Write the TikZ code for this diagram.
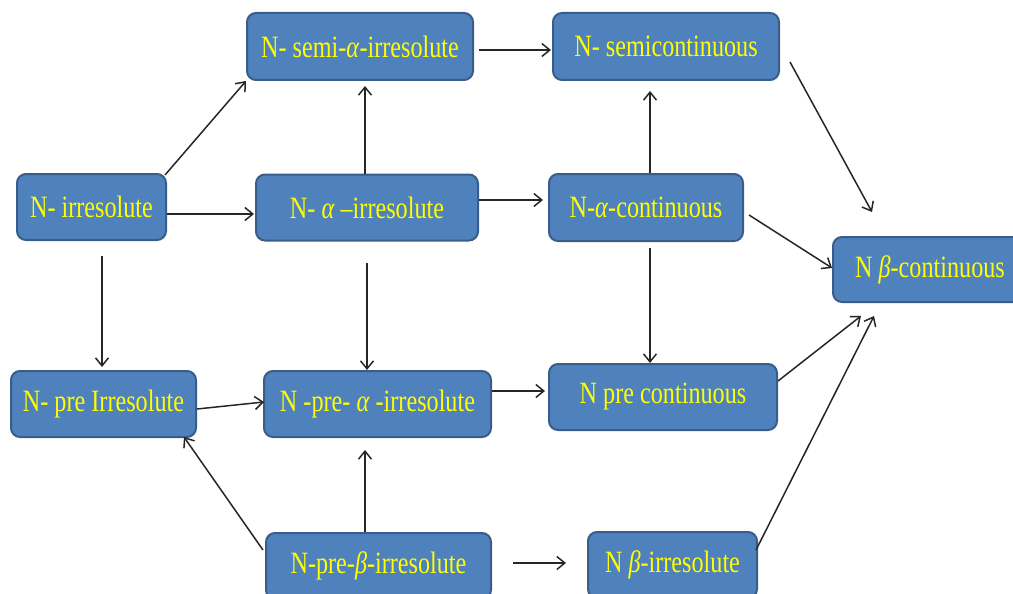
\documentclass[tikz,border=0pt]{standalone}
\usepackage{fontspec}
\setmainfont{Liberation Serif}
\usetikzlibrary{arrows.meta}
\definecolor{boxfill}{RGB}{79,129,189}
\definecolor{boxline}{RGB}{56,93,138}
\definecolor{txtyellow}{RGB}{255,255,0}
\newcommand{\boxtext}[1]{\scalebox{0.78}[1]{\fontsize{31}{33}\selectfont #1}}
\begin{document}
\begin{tikzpicture}[x=1pt,y=-1pt,
  box/.style={draw=boxline, line width=2pt, fill=boxfill, rounded corners=9pt,
    text=txtyellow, inner sep=0pt, minimum height=66pt},
  arr/.style={-{Straight Barb[length=8pt,width=13pt]}, line width=1.5pt, draw=black!85}]
\useasboundingbox (0,0) rectangle (1013,594);

\node[box, minimum width=149pt] (irr) at (91.5,207) {\boxtext{N- irresolute}};
\node[box, minimum width=226pt, minimum height=67pt] (semi) at (360,46.5) {\boxtext{N- semi-\textit{α}-irresolute}};
\node[box, minimum width=226pt, minimum height=67pt] (semicont) at (666,46.5) {\boxtext{N- semicontinuous}};
\node[box, minimum width=222pt] (airr) at (367,207.5) {\boxtext{N- \textit{α} –irresolute}};
\node[box, minimum width=194pt, minimum height=67pt] (acont) at (646,207.5) {\boxtext{N-\textit{α}-continuous}};
\node[box, minimum width=194pt, minimum height=65pt] (bcont) at (930,269.5) {\boxtext{N \textit{β}-continuous}};
\node[box, minimum width=185pt] (preirr) at (103.5,404) {\boxtext{N- pre Irresolute}};
\node[box, minimum width=227pt] (pairr) at (377.5,404) {\boxtext{N -pre- \textit{α} -irresolute}};
\node[box, minimum width=228pt] (precont) at (663,397) {\boxtext{N pre continuous}};
\node[box, minimum width=225pt] (pbirr) at (378.5,566) {\boxtext{N-pre-\textit{β}-irresolute}};
\node[box, minimum width=169pt] (birr) at (672.5,565) {\boxtext{N \textit{β}-irresolute}};

\draw[arr] ([shift={(-2,2)}]irr.north east) -- (semi.south west);
\draw[arr] ([shift={(0,7)}]irr.east) -- ([shift={(-1,6.5)}]airr.west);
\draw[arr] ([shift={(10.5,15)}]irr.south) -- ([shift={(-1.5,-3)}]preirr.north);
\draw[arr] ([shift={(-2,0)}]airr.north) -- ([shift={(5,5)}]semi.south);
\draw[arr] ([shift={(5,3.5)}]semi.east) -- ([shift={(-1,3.5)}]semicont.west);
\draw[arr] ([shift={(0,-7.5)}]airr.east) -- ([shift={(-5,-7.5)}]acont.west);
\draw[arr] ([shift={(4,0)}]acont.north) -- ([shift={(-16,10)}]semicont.south);
\draw[arr] ([shift={(4,6)}]acont.south) -- ([shift={(-13,0)}]precont.north);
\draw[arr] ([shift={(0,21.5)}]airr.south) -- ([shift={(-10.5,0)}]pairr.north);
\draw[arr] ([shift={(10,15.5)}]semicont.east) -- ([shift={(40,-24)}]bcont.north west);
\draw[arr] ([shift={(5,7.5)}]acont.east) -- ([shift={(0,-1.5)}]bcont.west);
\draw[arr] ([shift={(0,5)}]preirr.east) -- ([shift={(1,-2)}]pairr.west);
\draw[arr] ([shift={(0,-13)}]pairr.east) -- ([shift={(-3,-6)}]precont.west);
\draw[arr] ([shift={(0,-16)}]precont.east) -- ([shift={(29,13)}]bcont.south west);
\draw[arr] ([shift={(-2,-15)}]birr.east) -- ([shift={(42,13)}]bcont.south west);
\draw[arr] ([shift={(-2,-16)}]pbirr.west) -- ([shift={(-13,-1)}]preirr.south east);
\draw[arr] ([shift={(-13.5,0)}]pbirr.north) -- ([shift={(-12.5,12)}]pairr.south);
\draw[arr] ([shift={(21,-3)}]pbirr.east) -- ([shift={(-21,-2)}]birr.west);
\end{tikzpicture}
\end{document}
